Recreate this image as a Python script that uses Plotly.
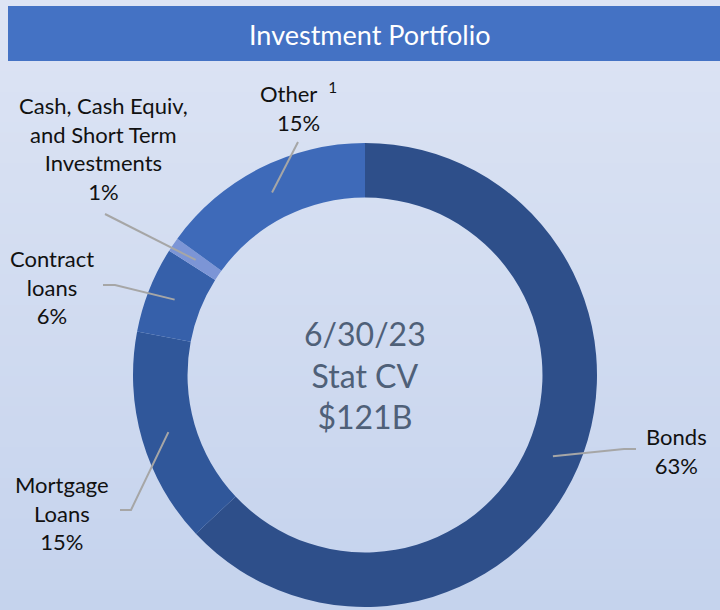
import math
import plotly.graph_objects as go

# data
categories = ["Bonds", "Mortgage Loans", "Contract loans",
              "Cash, Cash Equiv, and Short Term Investments", "Other"]
shares = [63, 15, 6, 1, 15]
label_text = ["Bonds<br>63%", "Mortgage<br>Loans<br>15%", "Contract<br>loans<br>6%",
              "Cash, Cash Equiv,<br>and Short Term<br>Investments<br>1%",
              "Other  <sup>1</sup><br>15%"]
slice_colors = ["#2E4F8A", "#30579A", "#3660AA", "#7C95D6", "#3E6AB9"]
center_text = "6/30/23<br>Stat CV<br>$121B"

W, H = 720, 610
cx, cy, R, hole = 365, 375, 232, 0.765

fig = go.Figure(go.Pie(
    labels=categories, values=shares, sort=False, direction="clockwise",
    hole=hole, textinfo="none", hoverinfo="label+percent",
    marker=dict(colors=slice_colors, line=dict(width=0)),
    domain=dict(x=[(cx - R) / W, (cx + R) / W], y=[(H - cy - R) / H, (H - cy + R) / H]),
    showlegend=False,
))

# leader lines: start at mid ring of each slice, then to the label
elbows = [[(624, 449), (636, 449)], [(131, 510), (120, 510)], [(115, 285), (103, 285)],
          [(105, 214)], [(298, 142)]]
label_pos = [(676, 451), (62, 513), (52, 287), (104, 148), (298, 107)]

def px(x, y):
    return x / W, 1 - y / H

shapes = []
# soft vertical gradient background
n = 60
c0, c1 = (221, 228, 244), (197, 211, 237)
for i in range(n):
    t = i / (n - 1)
    col = "rgb(%d,%d,%d)" % tuple(round(a + (b - a) * t) for a, b in zip(c0, c1))
    shapes.append(dict(type="rect", xref="paper", yref="paper", layer="below",
                       x0=0, x1=1, y0=1 - (i + 1) / n - 0.002, y1=1 - i / n,
                       fillcolor=col, line=dict(width=0)))
# title bar
shapes.append(dict(type="rect", xref="paper", yref="paper", x0=8 / W, x1=1,
                   y0=1 - 61 / H, y1=1 - 6 / H, fillcolor="#4472C4", line=dict(width=0)))

total = sum(shares)
cum = 0
r_mid = R * (1 + hole) / 2
annotations = []
for i, v in enumerate(shares):
    a = math.radians((cum + v / 2) / total * 360)
    cum += v
    pts = [(cx + r_mid * math.sin(a), cy - r_mid * math.cos(a))] + elbows[i]
    path = ""
    for j, (x, y) in enumerate(pts):
        u, w = px(x, y)
        path += ("M" if j == 0 else " L") + " %f %f" % (u, w)
    shapes.append(dict(type="path", xref="paper", yref="paper", path=path,
                       line=dict(color="#A6A6A6", width=2)))
    lx, ly = px(*label_pos[i])
    annotations.append(dict(x=lx, y=ly, xref="paper", yref="paper", text=label_text[i],
                            showarrow=False, font=dict(size=22, color="#111111"),
                            align="center", xanchor="center", yanchor="middle"))

annotations.append(dict(x=px(cx, cy)[0], y=px(cx, cy)[1], xref="paper", yref="paper",
                        text=center_text, showarrow=False, align="center",
                        font=dict(size=32, color="#4F6078"), xanchor="center", yanchor="middle"))
annotations.append(dict(x=px(370, 35)[0], y=px(370, 35)[1], xref="paper", yref="paper",
                        text="Investment Portfolio", showarrow=False,
                        font=dict(size=27, color="white"), xanchor="center", yanchor="middle"))

fig.update_layout(
    width=W, height=H, margin=dict(l=0, r=0, t=0, b=0),
    paper_bgcolor="#D5DEF1", plot_bgcolor="#D5DEF1",
    font=dict(family="Lato, Open Sans, sans-serif"),
    shapes=shapes, annotations=annotations,
)

fig.write_html("out.html", config={"displayModeBar": False},
               post_script="document.body.style.margin='0';")
